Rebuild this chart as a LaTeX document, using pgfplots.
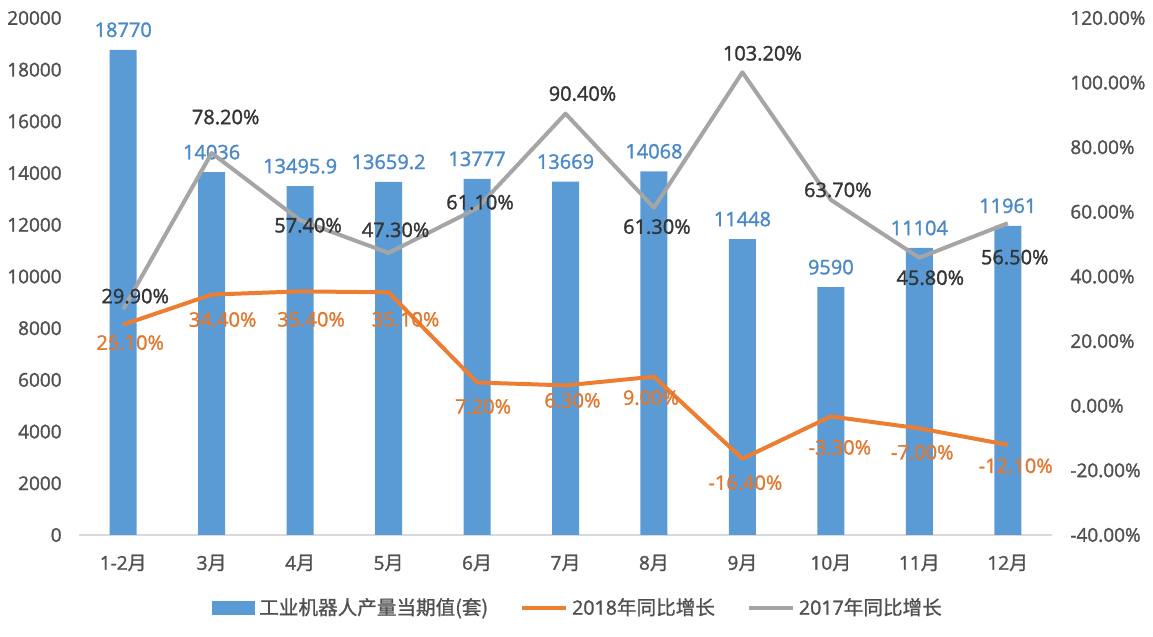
\documentclass[border=0pt]{standalone}
\usepackage{pgfplots}
\pgfplotsset{compat=1.18}
\usepackage{pgfplotstable}
\usepackage{fontspec}
\setmainfont{Open Sans}[RawFeature={embolden=1.5}]
\newfontfamily\cjk{Noto Sans CJK SC}[RawFeature={embolden=1.0}]
\definecolor{cbar}{HTML}{5B9BD5}
\definecolor{corg}{HTML}{ED7D31}
\definecolor{cgry}{HTML}{A5A5A5}
\definecolor{barlab}{HTML}{4A88C7}
\definecolor{orglab}{HTML}{E0782F}
\definecolor{grylab}{HTML}{333333}
\definecolor{tickc}{HTML}{505050}
\definecolor{axc}{HTML}{D9D9D9}

\pgfplotstableread{
x val lab gr gdx gdy og odx ody
0 18770 18770 29.9 6 6.5 25.1 3.5 -9
1 14036 14036 78.2 7 18 34.4 5.5 -12.5
2 13495.9 13495.9 57.4 4 -2.5 35.4 5.5 -14
3 13659.2 13659.2 47.3 3.5 11.5 35.1 8.5 -13.5
4 13777 13777 61.1 1.5 3 7.2 3 -12
5 13669 13669 90.4 8.5 10 6.3 3.5 -7.5
6 14068 14068 61.3 1.5 -9.5 9.0 -1.5 -10.5
7 11448 11448 103.2 10 9.5 -16.4 1.5 -12
8 9590 9590 63.7 3.5 5 -3.3 4.5 -15.5
9 11104 11104 45.8 5.5 -10 -7.0 1.5 -12
10 11961 11961 56.5 3.5 -17 -12.1 4 -10.5
}\data

\begin{document}
\begin{tikzpicture}
\pgfplotsset{
  every axis/.append style={font=\fontsize{9.5}{11}\selectfont},
  /pgf/number format/assume math mode=true,
}
\begin{axis}[
  name=ax1, at={(0,0)}, anchor=south west,
  scale only axis, width=486.5pt, height=258.5pt,
  xmin=-0.5, xmax=10.5, ymin=0, ymax=20000,
  ybar, bar width=13.5pt,
  axis x line*=bottom, axis y line*=left,
  y axis line style={draw=none},
  x axis line style={draw=axc, line width=0.8pt},
  major tick length=0pt,
  xtick={0,...,10},
  xticklabels={1-2{\cjk 月},3{\cjk 月},4{\cjk 月},5{\cjk 月},6{\cjk 月},7{\cjk 月},8{\cjk 月},9{\cjk 月},10{\cjk 月},11{\cjk 月},12{\cjk 月}},
  ytick={0,2000,...,20000},
  scaled y ticks=false,
  yticklabel style={/pgf/number format/1000 sep={}, anchor=east, inner sep=0pt, xshift=-8.5pt},
  xticklabel style={anchor=center, inner sep=0pt, yshift=-14pt},
  tick label style={text=tickc},
  clip=false,
]
\addplot[fill=cbar, draw=none,
  nodes near coords, point meta=explicit symbolic,
  every node near coord/.append style={anchor=center, yshift=10pt, text=barlab, font=\fontsize{10}{12}\selectfont}]
  table[x=x, y=val, meta=lab] {\data};
\end{axis}
\begin{axis}[
  name=ax2, at={(0,0)}, anchor=south west,
  scale only axis, width=486.5pt, height=258.5pt,
  xmin=-0.5, xmax=10.5, ymin=-40, ymax=120,
  axis x line=none, axis y line*=right,
  y axis line style={draw=none},
  major tick length=0pt,
  ytick={-40,-20,...,120},
  yticklabel={\pgfmathprintnumber[fixed,fixed zerofill,precision=2]{\tick}\%},
  yticklabel style={anchor=west, inner sep=0pt, xshift=9pt, text=tickc},
  clip=false,
  legend columns=3,
  legend style={at={(0.514,-0.141)}, anchor=center, draw=none, fill=none,
    font=\fontsize{9.8}{12}\selectfont, text=tickc,
    /tikz/every even column/.append style={column sep=14pt},
    inner sep=0pt},
  legend cell align=left,
]
\addlegendimage{legend image code/.code={\fill[cbar] (0pt,-3.25pt) rectangle (21pt,3.25pt);}}
\addlegendentry{\cjk 工业机器人产量当期值(套)}
\addplot[corg, line width=2pt, line join=round, mark=none,
  legend image code/.code={\draw[corg, line width=2pt] (0pt,0pt) -- (22pt,0pt);},
  nodes near coords={\pgfmathprintnumber[fixed,fixed zerofill,precision=2]{\pgfplotspointmeta}\%},
  point meta=y,
  visualization depends on={\thisrow{odx} \as \odx},
  visualization depends on={\thisrow{ody} \as \ody},
  every node near coord/.append style={anchor=center, xshift=\odx pt, yshift=\ody pt, text=orglab, font=\fontsize{10}{12}\selectfont}]
  table[x=x, y=og] {\data};
\addlegendentry{2018{\cjk 年同比增长}}
\addplot[cgry, line width=2pt, line join=round, mark=none,
  legend image code/.code={\draw[cgry, line width=2pt] (0pt,0pt) -- (22pt,0pt);},
  nodes near coords={\pgfmathprintnumber[fixed,fixed zerofill,precision=2]{\pgfplotspointmeta}\%},
  point meta=y,
  visualization depends on={\thisrow{gdx} \as \gdx},
  visualization depends on={\thisrow{gdy} \as \gdy},
  every node near coord/.append style={anchor=center, xshift=\gdx pt, yshift=\gdy pt, text=grylab, font=\fontsize{10}{12}\selectfont}]
  table[x=x, y=gr] {\data};
\addlegendentry{2017{\cjk 年同比增长}}
\end{axis}
\pgfresetboundingbox
\path[use as bounding box] (-39.5pt,-51pt) rectangle (537pt,267.5pt);
\end{tikzpicture}
\end{document}
